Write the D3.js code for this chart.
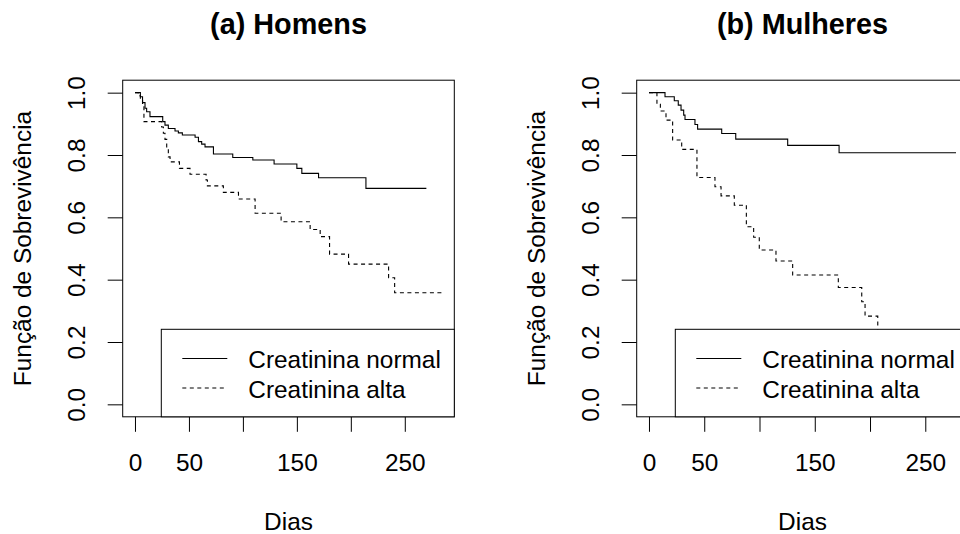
<!DOCTYPE html>
<html>
<head>
<meta charset="utf-8">
<script src="https://cdn.jsdelivr.net/npm/d3@7"></script>
<style>
  html, body { margin: 0; padding: 0; background: #fff; }
  svg { display: block; font-family: "Liberation Sans", Arial, sans-serif; }
</style>
</head>
<body>
<svg id="chart" width="960" height="534"></svg>
<script>
// Kaplan-Meier estimates (time in days, survival probability)
const homensNormalDias   = [0, 5, 7, 9.3, 10.8, 13.9, 25.7, 27.8, 30.9, 37.1, 40.2, 43.9, 55.7, 58.8, 61.8, 64.9, 72.7, 90.6, 109.2, 128.9, 150, 154.6, 170.1, 214, 270];
const homensNormalSobrev = [1, 0.987, 0.968, 0.950, 0.939, 0.923, 0.907, 0.896, 0.885, 0.877, 0.871, 0.864, 0.857, 0.843, 0.835, 0.826, 0.803, 0.792, 0.784, 0.771, 0.757, 0.741, 0.727, 0.693, 0.693];

const homensAltaDias   = [0, 3, 5, 7, 8.3, 24.7, 26.3, 27.8, 29.4, 30.9, 32.5, 41.2, 51, 65.9, 67.1, 81.9, 95.9, 111.3, 135.4, 162.3, 171.6, 180.3, 197.9, 235, 240.6, 284.5];
const homensAltaSobrev = [1, 0.99, 0.975, 0.955, 0.907, 0.89, 0.87, 0.85, 0.82, 0.794, 0.778, 0.757, 0.738, 0.72, 0.701, 0.680, 0.659, 0.613, 0.586, 0.561, 0.538, 0.482, 0.450, 0.406, 0.358, 0.358];

const mulheresNormalDias   = [0, 14.5, 22.9, 26.5, 29, 31.4, 32.6, 41.6, 44, 65.8, 78.5, 125.5, 172, 277.8];
const mulheresNormalSobrev = [1, 0.987, 0.974, 0.960, 0.944, 0.928, 0.914, 0.898, 0.883, 0.869, 0.851, 0.831, 0.807, 0.807];

const mulheresAltaDias   = [0, 7.2, 10.3, 15.4, 21.4, 29.6, 43.4, 59.7, 65.2, 77.2, 88.1, 94.7, 99.8, 114.9, 130, 171.3, 192.5, 195.5, 207];
const mulheresAltaSobrev = [1, 0.963, 0.941, 0.912, 0.848, 0.818, 0.728, 0.698, 0.669, 0.639, 0.570, 0.536, 0.495, 0.460, 0.415, 0.375, 0.329, 0.283, 0.21];

const xTicks      = [0, 50, 100, 150, 200, 250];
const xTickLabels = ["0", "50", "", "150", "", "250"];
const yTicks      = [0, 0.2, 0.4, 0.6, 0.8, 1.0];
const yTickLabels = ["0.0", "0.2", "0.4", "0.6", "0.8", "1.0"];

const legendLabels = ["Creatinina normal", "Creatinina alta"];
const titles = ["(a) Homens", "(b) Mulheres"];

const svg = d3.select("#chart");
const FONT = 24.4;

function toPoints(dias, sobrev) {
  return dias.map((d, i) => ({ t: d, s: sobrev[i] }));
}

function drawPanel(dx, title, normal, alta) {
  const left = 122.7 + dx, right = 454.3 + dx, top = 80.2, bottom = 416.8;
  const xMax = d3.max([...normal, ...alta], p => p.t);
  const x = d3.scaleLinear().domain([-0.04 * xMax, 1.04 * xMax]).range([left, right]);
  const y = d3.scaleLinear().domain([-0.04, 1.04]).range([bottom, top]);

  const g = svg.append("g");

  // survival curves
  const line = d3.line().x(p => x(p.t)).y(p => y(p.s)).curve(d3.curveStepAfter);
  g.append("path").datum(normal).attr("d", line)
    .attr("fill", "none").attr("stroke", "#000").attr("stroke-width", 1.1);
  g.append("path").datum(alta).attr("d", line)
    .attr("fill", "none").attr("stroke", "#000").attr("stroke-width", 1.1)
    .attr("stroke-dasharray", "4,3.5");

  // plot box
  g.append("rect").attr("x", left).attr("y", top)
    .attr("width", right - left).attr("height", bottom - top)
    .attr("fill", "none").attr("stroke", "#000").attr("stroke-width", 1);

  // x axis
  const ax = g.append("g").attr("transform", `translate(0,${bottom})`)
    .call(d3.axisBottom(x).tickValues(xTicks).tickSize(15).tickSizeOuter(0)
      .tickPadding(21.6).tickFormat((d, i) => xTickLabels[i]));
  ax.select(".domain").remove();
  ax.selectAll("line").attr("stroke", "#000");
  ax.selectAll("text").attr("font-size", FONT).attr("fill", "#000")
    .attr("font-family", "Liberation Sans, Arial, sans-serif");

  // y axis with rotated labels
  const ay = g.append("g").attr("transform", `translate(${left},0)`)
    .call(d3.axisLeft(y).tickValues(yTicks).tickSize(15).tickSizeOuter(0)
      .tickFormat((d, i) => yTickLabels[i]));
  ay.select(".domain").remove();
  ay.selectAll("line").attr("stroke", "#000");
  ay.selectAll("text")
    .attr("x", null).attr("dy", null).attr("y", null)
    .attr("transform", "translate(-37.7,0) rotate(-90)")
    .attr("text-anchor", "middle")
    .attr("font-size", FONT).attr("fill", "#000")
    .attr("font-family", "Liberation Sans, Arial, sans-serif");

  // titles and axis labels
  g.append("text").attr("x", (left + right) / 2).attr("y", 33.5)
    .attr("text-anchor", "middle").attr("font-weight", "bold")
    .attr("font-size", 28.8).text(title);
  g.append("text").attr("x", (left + right) / 2).attr("y", 529.5)
    .attr("text-anchor", "middle").attr("font-size", FONT).text("Dias");
  g.append("text").attr("transform", `translate(${31 + dx},${(top + bottom) / 2}) rotate(-90)`)
    .attr("text-anchor", "middle").attr("font-size", FONT).text("Função de Sobrevivência");

  // legend (bottom right)
  const lx = left + 38.6, ly = 329.3;
  g.append("rect").attr("x", lx).attr("y", ly)
    .attr("width", right - lx).attr("height", bottom - ly)
    .attr("fill", "#fff").attr("stroke", "#000").attr("stroke-width", 1);
  const rows = [358.5, 388];
  legendLabels.forEach((lab, i) => {
    g.append("line").attr("x1", lx + 21).attr("x2", lx + 66)
      .attr("y1", rows[i]).attr("y2", rows[i])
      .attr("stroke", "#000").attr("stroke-width", 1.1)
      .attr("stroke-dasharray", i === 1 ? "4,3.5" : null);
    g.append("text").attr("x", lx + 87).attr("y", rows[i] + 9.5)
      .attr("font-size", FONT).text(lab);
  });
}

drawPanel(0, titles[0],
  toPoints(homensNormalDias, homensNormalSobrev),
  toPoints(homensAltaDias, homensAltaSobrev));
drawPanel(514, titles[1],
  toPoints(mulheresNormalDias, mulheresNormalSobrev),
  toPoints(mulheresAltaDias, mulheresAltaSobrev));
</script>
</body>
</html>
